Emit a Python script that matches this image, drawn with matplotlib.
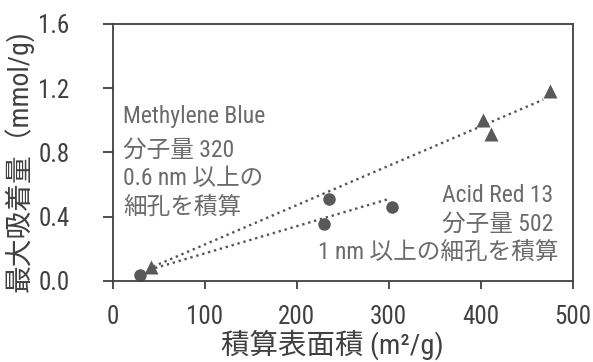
import numpy as np
import matplotlib
matplotlib.use("Agg")
import matplotlib.pyplot as plt

# Acid Red 13 (circles) and Methylene Blue (triangles)
ar_area = [30, 230, 235, 304]
ar_qmax = [0.035, 0.354, 0.512, 0.46]
mb_area = [42, 402, 411, 475]
mb_qmax = [0.09, 1.0, 0.914, 1.18]

x_ticks = [0, 100, 200, 300, 400, 500]
y_ticks = [0.0, 0.4, 0.8, 1.2, 1.6]
y_ticklabels = ["0.0", "0.4", "0.8", "1.2", "1.6"]

fam = ["Roboto Condensed", "Noto Sans CJK JP", "DejaVu Sans"]
plt.rcParams["font.family"] = fam

W, H = 593, 362
fig = plt.figure(figsize=(W / 100, H / 100), dpi=100)
ax = fig.add_axes([112.7 / W, 1 - 281 / H, 460 / W, (281 - 23.7) / H])

axis_col = "#404040"
mark_col = "#595959"
text_col = "#6b6b6b"

# trend lines (least-squares fits)
pm = np.polyfit(mb_area, mb_qmax, 1)
xm = np.array([44, 468])
ax.plot(xm, np.polyval(pm, xm), linestyle=(0, (1, 1.6)), color="#555555", lw=1.7)
pa = np.polyfit(ar_area, ar_qmax, 1)
xa = np.array([46, 300])
ax.plot(xa, np.polyval(pa, xa), linestyle=(0, (1, 1.6)), color="#555555", lw=1.7)

ax.plot(ar_area, ar_qmax, "o", color=mark_col, ms=9, mec="none")
ax.plot(mb_area, mb_qmax, "^", color=mark_col, ms=10, mec="none")

ax.set_xlim(0, 500)
ax.set_ylim(0, 1.6)
ax.set_xticks(x_ticks)
ax.set_yticks(y_ticks)
ax.set_yticklabels(y_ticklabels)
ax.tick_params(direction="out", width=1.3, color=axis_col,
               labelcolor=axis_col, labelsize=18)
ax.tick_params(axis="x", length=6, pad=11)
ax.tick_params(axis="y", length=7, pad=24)
for s in ax.spines.values():
    s.set_color(axis_col)
    s.set_linewidth(1.3)

fig.text(332 / W, 1 - 345 / H, "積算表面積 (m²/g)", ha="center", va="center",
         fontsize=20.5, color=axis_col)
fig.text(20 / W, 1 - 161 / H, "最大吸着量（mmol/g)", ha="center", va="center",
         rotation=90, fontsize=20, color=axis_col)

def px(x, y):
    return x / W, 1 - y / H

mb_lines = ["Methylene Blue", "分子量 320", "0.6 nm 以上の", "細孔を積算"]
mb_y = [116, 150, 179, 207]
for t, y in zip(mb_lines, mb_y):
    fig.text(*px(123, y), t, ha="left", va="center", fontsize=17, color=text_col)
ar_lines = ["Acid Red 13", "分子量 502", "1 nm 以上の細孔を積算"]
ar_y = [195, 224, 252]
ar_right = [553, 553, 559]
for t, y, xr in zip(ar_lines, ar_y, ar_right):
    fig.text(*px(xr, y), t, ha="right", va="center", fontsize=17, color=text_col)

fig.savefig("out.png", dpi=100)
